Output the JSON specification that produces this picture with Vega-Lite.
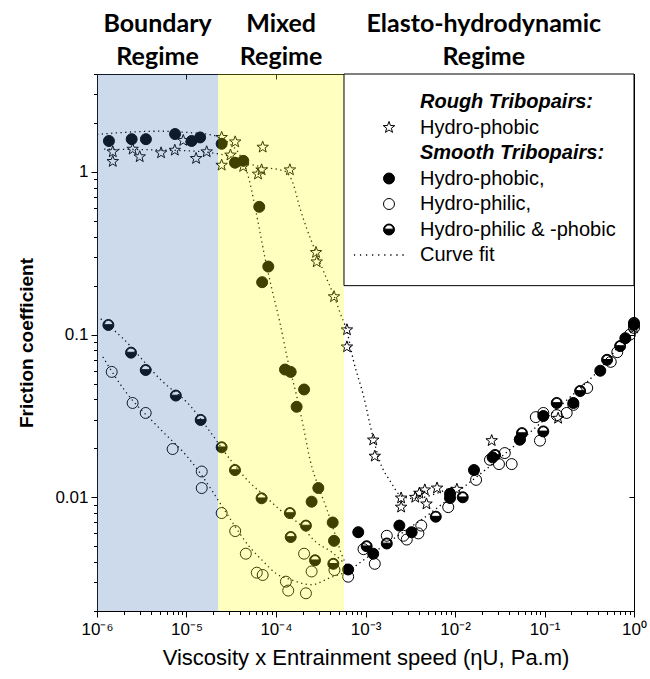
{
  "$schema": "https://vega.github.io/schema/vega-lite/v6.json",
  "width": 537,
  "height": 537,
  "autosize": "none",
  "padding": {"left": 97, "top": 74, "right": 16, "bottom": 68},
  "background": "white",
  "config": {
    "view": {"stroke": "black", "strokeWidth": 1},
    "font": "Liberation Sans",
    "axis": {"domainColor": "black", "tickColor": "black", "grid": false}
  },
  "datasets": {
    "points": [
      {"series": "Hydro-phobic", "x": 1.5e-6, "y": 1.33},
      {"series": "Hydro-phobic", "x": 1.5e-6, "y": 1.16},
      {"series": "Hydro-phobic", "x": 2.5e-6, "y": 1.38},
      {"series": "Hydro-phobic", "x": 3.0e-6, "y": 1.24},
      {"series": "Hydro-phobic", "x": 5.2e-6, "y": 1.31},
      {"series": "Hydro-phobic", "x": 7.4e-6, "y": 1.36},
      {"series": "Hydro-phobic", "x": 9.2e-6, "y": 1.56},
      {"series": "Hydro-phobic", "x": 1.28e-5, "y": 1.21},
      {"series": "Hydro-phobic", "x": 1.68e-5, "y": 1.33},
      {"series": "Hydro-phobic", "x": 2.47e-5, "y": 1.63},
      {"series": "Hydro-phobic", "x": 2.47e-5, "y": 1.10},
      {"series": "Hydro-phobic", "x": 3.1e-5, "y": 1.27},
      {"series": "Hydro-phobic", "x": 3.5e-5, "y": 1.53},
      {"series": "Hydro-phobic", "x": 4.3e-5, "y": 1.08},
      {"series": "Hydro-phobic", "x": 6.3e-5, "y": 0.97},
      {"series": "Hydro-phobic", "x": 6.9e-5, "y": 1.03},
      {"series": "Hydro-phobic", "x": 7.1e-5, "y": 1.42},
      {"series": "Hydro-phobic", "x": 1.43e-4, "y": 1.03},
      {"series": "Hydro-phobic", "x": 2.8e-4, "y": 0.32},
      {"series": "Hydro-phobic", "x": 2.85e-4, "y": 0.28},
      {"series": "Hydro-phobic", "x": 4.45e-4, "y": 0.171},
      {"series": "Hydro-phobic", "x": 6.2e-4, "y": 0.107},
      {"series": "Hydro-phobic", "x": 6.2e-4, "y": 0.084},
      {"series": "Hydro-phobic", "x": 1.22e-3, "y": 0.0225},
      {"series": "Hydro-phobic", "x": 1.27e-3, "y": 0.0179},
      {"series": "Hydro-phobic", "x": 2.5e-3, "y": 0.0099},
      {"series": "Hydro-phobic", "x": 2.5e-3, "y": 0.0087},
      {"series": "Hydro-phobic", "x": 3.6e-3, "y": 0.0100},
      {"series": "Hydro-phobic", "x": 4.0e-3, "y": 0.0106},
      {"series": "Hydro-phobic", "x": 4.6e-3, "y": 0.0111},
      {"series": "Hydro-phobic", "x": 4.8e-3, "y": 0.0091},
      {"series": "Hydro-phobic", "x": 6.3e-3, "y": 0.0114},
      {"series": "Hydro-phobic", "x": 1.05e-2, "y": 0.0112},
      {"series": "Hydro-phobic", "x": 2.57e-2, "y": 0.0223},
      {"series": "Hydro-phobic", "x": 0.142, "y": 0.0306},
      {"series": "Hydro-phobic", "x": 1.0, "y": 0.11},
      {"series": "Hydro-phobic,", "x": 1.36e-6, "y": 1.55},
      {"series": "Hydro-phobic,", "x": 2.44e-6, "y": 1.59},
      {"series": "Hydro-phobic,", "x": 3.52e-6, "y": 1.59},
      {"series": "Hydro-phobic,", "x": 7.45e-6, "y": 1.71},
      {"series": "Hydro-phobic,", "x": 1.14e-5, "y": 1.55},
      {"series": "Hydro-phobic,", "x": 1.42e-5, "y": 1.63},
      {"series": "Hydro-phobic,", "x": 2.47e-5, "y": 1.49},
      {"series": "Hydro-phobic,", "x": 3.48e-5, "y": 1.14},
      {"series": "Hydro-phobic,", "x": 4.31e-5, "y": 1.17},
      {"series": "Hydro-phobic,", "x": 6.5e-5, "y": 0.61},
      {"series": "Hydro-phobic,", "x": 8.2e-5, "y": 0.262},
      {"series": "Hydro-phobic,", "x": 7.0e-5, "y": 0.21},
      {"series": "Hydro-phobic,", "x": 1.26e-4, "y": 0.061},
      {"series": "Hydro-phobic,", "x": 1.46e-4, "y": 0.059},
      {"series": "Hydro-phobic,", "x": 2.06e-4, "y": 0.046},
      {"series": "Hydro-phobic,", "x": 1.7e-4, "y": 0.036},
      {"series": "Hydro-phobic,", "x": 2.97e-4, "y": 0.0114},
      {"series": "Hydro-phobic,", "x": 2.5e-4, "y": 0.0094},
      {"series": "Hydro-phobic,", "x": 4.3e-4, "y": 0.0070},
      {"series": "Hydro-phobic,", "x": 4.45e-4, "y": 0.0054},
      {"series": "Hydro-phobic,", "x": 6.4e-4, "y": 0.0036},
      {"series": "Hydro-phobic,", "x": 8.3e-4, "y": 0.0061},
      {"series": "Hydro-phobic,", "x": 1.22e-3, "y": 0.0045},
      {"series": "Hydro-phobic,", "x": 2.39e-3, "y": 0.0067},
      {"series": "Hydro-phobic,", "x": 3.28e-3, "y": 0.0061},
      {"series": "Hydro-phobic,", "x": 8.8e-3, "y": 0.0105},
      {"series": "Hydro-phobic,", "x": 1.63e-2, "y": 0.0147},
      {"series": "Hydro-phobic,", "x": 2.63e-2, "y": 0.0176},
      {"series": "Hydro-phobic,", "x": 5.3e-2, "y": 0.0227},
      {"series": "Hydro-phobic,", "x": 9.7e-2, "y": 0.0316},
      {"series": "Hydro-phobic,", "x": 0.21, "y": 0.038},
      {"series": "Hydro-phobic,", "x": 0.42, "y": 0.06},
      {"series": "Hydro-phobic,", "x": 0.8, "y": 0.095},
      {"series": "Hydro-phobic,", "x": 1.0, "y": 0.115},
      {"series": "Hydro-philic,", "x": 1.46e-6, "y": 0.059},
      {"series": "Hydro-philic,", "x": 2.5e-6, "y": 0.038},
      {"series": "Hydro-philic,", "x": 3.5e-6, "y": 0.033},
      {"series": "Hydro-philic,", "x": 7.0e-6, "y": 0.0198},
      {"series": "Hydro-philic,", "x": 1.48e-5, "y": 0.0144},
      {"series": "Hydro-philic,", "x": 1.48e-5, "y": 0.0114},
      {"series": "Hydro-philic,", "x": 2.47e-5, "y": 0.0080},
      {"series": "Hydro-philic,", "x": 3.5e-5, "y": 0.0062},
      {"series": "Hydro-philic,", "x": 4.6e-5, "y": 0.0045},
      {"series": "Hydro-philic,", "x": 6.1e-5, "y": 0.00344},
      {"series": "Hydro-philic,", "x": 7.1e-5, "y": 0.00333},
      {"series": "Hydro-philic,", "x": 1.29e-4, "y": 0.00303},
      {"series": "Hydro-philic,", "x": 1.37e-4, "y": 0.00267},
      {"series": "Hydro-philic,", "x": 2.16e-4, "y": 0.00257},
      {"series": "Hydro-philic,", "x": 2.06e-4, "y": 0.0045},
      {"series": "Hydro-philic,", "x": 2.5e-4, "y": 0.0035},
      {"series": "Hydro-philic,", "x": 4.5e-4, "y": 0.00357},
      {"series": "Hydro-philic,", "x": 6.4e-4, "y": 0.00325},
      {"series": "Hydro-philic,", "x": 9.5e-4, "y": 0.0048},
      {"series": "Hydro-philic,", "x": 1.27e-3, "y": 0.0039},
      {"series": "Hydro-philic,", "x": 1.73e-3, "y": 0.0058},
      {"series": "Hydro-philic,", "x": 2.65e-3, "y": 0.0058},
      {"series": "Hydro-philic,", "x": 2.89e-3, "y": 0.0055},
      {"series": "Hydro-philic,", "x": 3.9e-3, "y": 0.0060},
      {"series": "Hydro-philic,", "x": 4.2e-3, "y": 0.0067},
      {"series": "Hydro-philic,", "x": 8.4e-3, "y": 0.0087},
      {"series": "Hydro-philic,", "x": 1.72e-2, "y": 0.0128},
      {"series": "Hydro-philic,", "x": 2.46e-2, "y": 0.0170},
      {"series": "Hydro-philic,", "x": 3.1e-2, "y": 0.016},
      {"series": "Hydro-philic,", "x": 4.3e-2, "y": 0.016},
      {"series": "Hydro-philic,", "x": 3.6e-2, "y": 0.0187},
      {"series": "Hydro-philic,", "x": 5.3e-2, "y": 0.0226},
      {"series": "Hydro-philic,", "x": 8.9e-2, "y": 0.0223},
      {"series": "Hydro-philic,", "x": 8.0e-2, "y": 0.0311},
      {"series": "Hydro-philic,", "x": 9.7e-2, "y": 0.033},
      {"series": "Hydro-philic,", "x": 0.137, "y": 0.032},
      {"series": "Hydro-philic,", "x": 0.177, "y": 0.033},
      {"series": "Hydro-philic,", "x": 0.21, "y": 0.037},
      {"series": "Hydro-philic,", "x": 0.3, "y": 0.047},
      {"series": "Hydro-philic,", "x": 0.55, "y": 0.068},
      {"series": "Hydro-philic,", "x": 0.65, "y": 0.078},
      {"series": "Hydro-philic,", "x": 0.9, "y": 0.1},
      {"series": "Hydro-philic,", "x": 1.0, "y": 0.11},
      {"series": "Hydro-philic & -phobic", "x": 1.34e-6, "y": 0.1146},
      {"series": "Hydro-philic & -phobic", "x": 2.4e-6, "y": 0.0775},
      {"series": "Hydro-philic & -phobic", "x": 3.5e-6, "y": 0.0606},
      {"series": "Hydro-philic & -phobic", "x": 7.6e-6, "y": 0.0422},
      {"series": "Hydro-philic & -phobic", "x": 1.44e-5, "y": 0.0299},
      {"series": "Hydro-philic & -phobic", "x": 2.47e-5, "y": 0.0203},
      {"series": "Hydro-philic & -phobic", "x": 3.48e-5, "y": 0.0147},
      {"series": "Hydro-philic & -phobic", "x": 6.9e-5, "y": 0.00986},
      {"series": "Hydro-philic & -phobic", "x": 1.43e-4, "y": 0.0080},
      {"series": "Hydro-philic & -phobic", "x": 1.46e-4, "y": 0.0057},
      {"series": "Hydro-philic & -phobic", "x": 2.16e-4, "y": 0.0067},
      {"series": "Hydro-philic & -phobic", "x": 2.73e-4, "y": 0.0041},
      {"series": "Hydro-philic & -phobic", "x": 4.37e-4, "y": 0.0039},
      {"series": "Hydro-philic & -phobic", "x": 1.03e-3, "y": 0.0050},
      {"series": "Hydro-philic & -phobic", "x": 1.73e-3, "y": 0.0052},
      {"series": "Hydro-philic & -phobic", "x": 6.1e-3, "y": 0.0076},
      {"series": "Hydro-philic & -phobic", "x": 8.8e-3, "y": 0.0099},
      {"series": "Hydro-philic & -phobic", "x": 1.22e-2, "y": 0.010},
      {"series": "Hydro-philic & -phobic", "x": 2.8e-2, "y": 0.0182},
      {"series": "Hydro-philic & -phobic", "x": 5.6e-2, "y": 0.0248},
      {"series": "Hydro-philic & -phobic", "x": 9.7e-2, "y": 0.0254},
      {"series": "Hydro-philic & -phobic", "x": 0.137, "y": 0.038},
      {"series": "Hydro-philic & -phobic", "x": 0.25, "y": 0.045},
      {"series": "Hydro-philic & -phobic", "x": 0.5, "y": 0.07},
      {"series": "Hydro-philic & -phobic", "x": 0.7, "y": 0.085},
      {"series": "Hydro-philic & -phobic", "x": 1.0, "y": 0.118}
    ],
    "fits": [
      {"fit": "smooth phobic", "x": 1e-6, "y": 1.7},
      {"fit": "smooth phobic", "x": 2e-6, "y": 1.75},
      {"fit": "smooth phobic", "x": 5e-6, "y": 1.78},
      {"fit": "smooth phobic", "x": 1e-5, "y": 1.75},
      {"fit": "smooth phobic", "x": 2e-5, "y": 1.68},
      {"fit": "smooth phobic", "x": 3e-5, "y": 1.5},
      {"fit": "smooth phobic", "x": 4e-5, "y": 1.25},
      {"fit": "smooth phobic", "x": 5e-5, "y": 0.9},
      {"fit": "smooth phobic", "x": 5.8e-5, "y": 0.62},
      {"fit": "smooth phobic", "x": 6.5e-5, "y": 0.45},
      {"fit": "smooth phobic", "x": 7.5e-5, "y": 0.3},
      {"fit": "smooth phobic", "x": 9e-5, "y": 0.19},
      {"fit": "smooth phobic", "x": 1.1e-4, "y": 0.12},
      {"fit": "smooth phobic", "x": 1.35e-4, "y": 0.07},
      {"fit": "smooth phobic", "x": 1.7e-4, "y": 0.042},
      {"fit": "smooth phobic", "x": 2e-4, "y": 0.028},
      {"fit": "smooth phobic", "x": 2.4e-4, "y": 0.017},
      {"fit": "smooth phobic", "x": 3e-4, "y": 0.0115},
      {"fit": "smooth phobic", "x": 3.6e-4, "y": 0.0088},
      {"fit": "smooth phobic", "x": 4.3e-4, "y": 0.0066},
      {"fit": "smooth phobic", "x": 5.3e-4, "y": 0.0046},
      {"fit": "smooth phobic", "x": 6.4e-4, "y": 0.0036},
      {"fit": "rough phobic", "x": 1.2e-6, "y": 1.38},
      {"fit": "rough phobic", "x": 1e-5, "y": 1.35},
      {"fit": "rough phobic", "x": 3e-5, "y": 1.25},
      {"fit": "rough phobic", "x": 5e-5, "y": 1.12},
      {"fit": "rough phobic", "x": 8e-5, "y": 1.06},
      {"fit": "rough phobic", "x": 1.1e-4, "y": 1.03},
      {"fit": "rough phobic", "x": 1.3e-4, "y": 1.0},
      {"fit": "rough phobic", "x": 1.55e-4, "y": 0.85},
      {"fit": "rough phobic", "x": 1.85e-4, "y": 0.6},
      {"fit": "rough phobic", "x": 2.2e-4, "y": 0.45},
      {"fit": "rough phobic", "x": 2.8e-4, "y": 0.32},
      {"fit": "rough phobic", "x": 3.6e-4, "y": 0.227},
      {"fit": "rough phobic", "x": 4.5e-4, "y": 0.17},
      {"fit": "rough phobic", "x": 5.2e-4, "y": 0.136},
      {"fit": "rough phobic", "x": 6.2e-4, "y": 0.105},
      {"fit": "rough phobic", "x": 7.3e-4, "y": 0.07},
      {"fit": "rough phobic", "x": 9.5e-4, "y": 0.042},
      {"fit": "rough phobic", "x": 1.2e-3, "y": 0.024},
      {"fit": "rough phobic", "x": 1.45e-3, "y": 0.0165},
      {"fit": "rough phobic", "x": 1.9e-3, "y": 0.0125},
      {"fit": "rough phobic", "x": 2.5e-3, "y": 0.0102},
      {"fit": "rough phobic", "x": 3.5e-3, "y": 0.0098},
      {"fit": "rough phobic", "x": 6e-3, "y": 0.0105},
      {"fit": "rough phobic", "x": 1e-2, "y": 0.0118},
      {"fit": "philic phobic", "x": 1.1e-6, "y": 0.125},
      {"fit": "philic phobic", "x": 1.9e-6, "y": 0.096},
      {"fit": "philic phobic", "x": 5.3e-6, "y": 0.052},
      {"fit": "philic phobic", "x": 1.1e-5, "y": 0.0365},
      {"fit": "philic phobic", "x": 1.7e-5, "y": 0.0268},
      {"fit": "philic phobic", "x": 3.2e-5, "y": 0.0166},
      {"fit": "philic phobic", "x": 5.1e-5, "y": 0.0123},
      {"fit": "philic phobic", "x": 7.5e-5, "y": 0.0102},
      {"fit": "philic phobic", "x": 1.1e-4, "y": 0.0084},
      {"fit": "philic phobic", "x": 1.85e-4, "y": 0.0068},
      {"fit": "philic phobic", "x": 2.8e-4, "y": 0.0053},
      {"fit": "philic phobic", "x": 4.2e-4, "y": 0.0046},
      {"fit": "philic phobic", "x": 5.6e-4, "y": 0.004},
      {"fit": "philic", "x": 1.16e-6, "y": 0.073},
      {"fit": "philic", "x": 2e-6, "y": 0.046},
      {"fit": "philic", "x": 5e-6, "y": 0.0265},
      {"fit": "philic", "x": 1e-5, "y": 0.018},
      {"fit": "philic", "x": 1.5e-5, "y": 0.0135},
      {"fit": "philic", "x": 2.5e-5, "y": 0.0088},
      {"fit": "philic", "x": 3.5e-5, "y": 0.0066},
      {"fit": "philic", "x": 5e-5, "y": 0.005},
      {"fit": "philic", "x": 7e-5, "y": 0.0041},
      {"fit": "philic", "x": 1e-4, "y": 0.0034},
      {"fit": "philic", "x": 1.5e-4, "y": 0.0031},
      {"fit": "philic", "x": 2.5e-4, "y": 0.0029},
      {"fit": "philic", "x": 4e-4, "y": 0.0032},
      {"fit": "philic", "x": 6.4e-4, "y": 0.0035},
      {"fit": "ehl", "x": 6.4e-4, "y": 0.0035},
      {"fit": "ehl", "x": 1e-3, "y": 0.0042},
      {"fit": "ehl", "x": 2e-3, "y": 0.0055},
      {"fit": "ehl", "x": 5e-3, "y": 0.0078},
      {"fit": "ehl", "x": 1e-2, "y": 0.0105},
      {"fit": "ehl", "x": 3e-2, "y": 0.017},
      {"fit": "ehl", "x": 0.1, "y": 0.03},
      {"fit": "ehl", "x": 0.2, "y": 0.042},
      {"fit": "ehl", "x": 0.4, "y": 0.06},
      {"fit": "ehl", "x": 1, "y": 0.115}
    ],
    "regions": [
      {"regime": "Boundary", "start": 1e-6, "end": 2.25e-5},
      {"regime": "Mixed", "start": 2.25e-5, "end": 5.75e-4}
    ],
    "regimes": [
      {"label": ["Boundary", "Regime"], "x": 4.75e-6},
      {"label": ["Mixed", "Regime"], "x": 1.14e-4},
      {"label": ["Elasto-hydrodynamic", "Regime"], "x": 0.021}
    ]
  },
  "layer": [
    {
      "data": {"name": "fits"},
      "mark": {"type": "line", "color": "black", "strokeWidth": 1.3, "strokeDash": [1.3, 3.4], "interpolate": "monotone"},
      "encoding": {
        "x": {"field": "x", "type": "quantitative", "scale": {"type": "log", "domain": [1e-6, 1], "nice": false}, "axis": null},
        "y": {"field": "y", "type": "quantitative", "scale": {"type": "log", "domain": [0.002, 4], "nice": false}, "axis": null},
        "detail": {"field": "fit", "type": "nominal"}
      }
    },
    {
      "data": {"name": "points"},
      "mark": {"type": "point", "filled": true, "size": 121, "stroke": "black", "strokeWidth": 1, "opacity": 1},
      "encoding": {
        "x": {
          "field": "x", "type": "quantitative",
          "scale": {"type": "log", "domain": [1e-6, 1], "nice": false},
          "axis": {
            "title": "Viscosity x Entrainment speed (ηU, Pa.m)",
            "titleFont": "Liberation Sans", "titleFontSize": 22, "titleFontWeight": "normal", "titleColor": "black", "titlePadding": 10,
            "values": [1e-6, 2e-6, 3e-6, 4e-6, 5e-6, 6e-6, 7e-6, 8e-6, 9e-6, 1e-5, 2e-5, 3e-5, 4e-5, 5e-5, 6e-5, 7e-5, 8e-5, 9e-5, 1e-4, 2e-4, 3e-4, 4e-4, 5e-4, 6e-4, 7e-4, 8e-4, 9e-4, 1e-3, 2e-3, 3e-3, 4e-3, 5e-3, 6e-3, 7e-3, 8e-3, 9e-3, 0.01, 0.02, 0.03, 0.04, 0.05, 0.06, 0.07, 0.08, 0.09, 0.1, 0.2, 0.3, 0.4, 0.5, 0.6, 0.7, 0.8, 0.9, 1],
            "labelExpr": "abs(log(datum.value)/LN10 - round(log(datum.value)/LN10)) < 0.001 ? '10' + ['⁰','⁻¹','⁻²','⁻³','⁻⁴','⁻⁵','⁻⁶'][-round(log(datum.value)/LN10)] : ''",
            "labelFont": "Liberation Sans", "labelFontSize": 17, "labelColor": "black", "labelPadding": 4, "labelOverlap": false, "labelFlush": false,
            "tickSize": {"condition": {"test": "abs(log(datum.value)/LN10 - round(log(datum.value)/LN10)) < 0.001", "value": 6}, "value": 3.5},
            "tickColor": "black", "domainColor": "black", "grid": false
          }
        },
        "y": {
          "field": "y", "type": "quantitative",
          "scale": {"type": "log", "domain": [0.002, 4], "nice": false},
          "axis": {
            "title": "Friction coefficient",
            "titleFont": "Liberation Sans", "titleFontSize": 19, "titleFontWeight": "bold", "titleColor": "black", "titlePadding": 18,
            "values": [0.002, 0.003, 0.004, 0.005, 0.006, 0.007, 0.008, 0.009, 0.01, 0.02, 0.03, 0.04, 0.05, 0.06, 0.07, 0.08, 0.09, 0.1, 0.2, 0.3, 0.4, 0.5, 0.6, 0.7, 0.8, 0.9, 1, 2, 3, 4],
            "labelExpr": "abs(log(datum.value)/LN10 - round(log(datum.value)/LN10)) < 0.001 ? format(datum.value, '~g') : ''",
            "labelFont": "Liberation Sans", "labelFontSize": 17, "labelColor": "black", "labelPadding": 3, "labelOverlap": false, "labelFlush": false,
            "tickSize": {"condition": {"test": "abs(log(datum.value)/LN10 - round(log(datum.value)/LN10)) < 0.001", "value": 6}, "value": 3.5},
            "tickColor": "black", "domainColor": "black", "grid": false
          }
        },
        "shape": {
          "field": "series", "type": "nominal",
          "scale": {
            "domain": ["Rough Tribopairs:", "Hydro-phobic", "Smooth Tribopairs:", "Hydro-phobic,", "Hydro-philic,", "Hydro-philic & -phobic", "Curve fit"],
            "range": [
              "M0,0",
              "M0,-1.1L0.265,-0.364L1.046,-0.34L0.428,0.139L0.647,0.89L0,0.45L-0.647,0.89L-0.428,0.139L-1.046,-0.34L-0.265,-0.364Z",
              "M0,0",
              "M-1,0A1,1,0,1,1,1,0A1,1,0,1,1,-1,0Z",
              "M-1,0A1,1,0,1,1,1,0A1,1,0,1,1,-1,0Z",
              "M-1,0A1,1,0,1,1,1,0A1,1,0,1,1,-1,0ZM-0.78,-0.06L0.78,-0.06A0.78,0.78,0,0,0,-0.78,-0.06Z",
              "M-6.3,-0.05h0.1v0.1h-0.1ZM-5.2,-0.05h0.1v0.1h-0.1ZM-4.1,-0.05h0.1v0.1h-0.1ZM-3,-0.05h0.1v0.1h-0.1ZM-1.9,-0.05h0.1v0.1h-0.1ZM-0.8,-0.05h0.1v0.1h-0.1ZM0.3,-0.05h0.1v0.1h-0.1ZM1.4,-0.05h0.1v0.1h-0.1ZM2.5,-0.05h0.1v0.1h-0.1Z"
            ]
          },
          "legend": {
            "title": null, "orient": "none", "legendX": 282, "legendY": 18,
            "labelFont": "Liberation Sans", "labelFontSize": 20, "labelColor": "black", "labelLimit": 300,
            "labelFontWeight": {"expr": "indexof(datum.value, 'Tribopairs') >= 0 ? 'bold' : 'normal'"},
            "labelFontStyle": {"expr": "indexof(datum.value, 'Tribopairs') >= 0 ? 'italic' : 'normal'"},
            "symbolSize": 121, "symbolStrokeWidth": 1, "symbolOpacity": 1,
            "labelOffset": 21, "rowPadding": 5.5, "padding": 0,
            "encode": {"symbols": {"update": {"stroke": {"value": "black"}, "strokeWidth": {"value": 1}, "opacity": {"value": 1}}}}
          }
        },
        "fill": {
          "field": "series", "type": "nominal",
          "scale": {
            "domain": ["Rough Tribopairs:", "Hydro-phobic", "Smooth Tribopairs:", "Hydro-phobic,", "Hydro-philic,", "Hydro-philic & -phobic", "Curve fit"],
            "range": ["transparent", "transparent", "transparent", "black", "transparent", "black", "black"]
          },
          "legend": {
            "title": null, "orient": "none", "legendX": 282, "legendY": 18,
            "labelFont": "Liberation Sans", "labelFontSize": 20, "labelColor": "black", "labelLimit": 300,
            "labelFontWeight": {"expr": "indexof(datum.value, 'Tribopairs') >= 0 ? 'bold' : 'normal'"},
            "labelFontStyle": {"expr": "indexof(datum.value, 'Tribopairs') >= 0 ? 'italic' : 'normal'"},
            "symbolSize": 121, "symbolStrokeWidth": 1, "symbolOpacity": 1,
            "labelOffset": 21, "rowPadding": 5.5, "padding": 0,
            "encode": {"symbols": {"update": {"stroke": {"value": "black"}, "strokeWidth": {"value": 1}, "opacity": {"value": 1}}}}
          }
        }
      }
    },
    {
      "data": {"name": "regions"},
      "mark": {"type": "rect", "opacity": 0.25},
      "encoding": {
        "x": {"field": "start", "type": "quantitative", "scale": {"type": "log", "domain": [1e-6, 1], "nice": false}, "axis": null},
        "x2": {"field": "end"},
        "color": {"field": "regime", "type": "nominal", "scale": {"domain": ["Boundary", "Mixed"], "range": ["#376baf", "#ffff00"]}, "legend": null}
      }
    },
    {
      "data": {"values": [{}]},
      "mark": {"type": "rect", "fill": "white", "stroke": "black", "strokeWidth": 1},
      "encoding": {
        "x": {"datum": 0.000575, "type": "quantitative", "scale": {"type": "log", "domain": [1e-6, 1], "nice": false},
          "axis": {"orient": "top", "labels": false, "title": null, "values": [1e-6, 1e-5, 1e-4, 1e-3, 1e-2, 0.1, 1], "tickSize": -5, "tickColor": "black", "domainColor": "black", "grid": false}},
        "x2": {"datum": 1},
        "y": {"datum": 0.2, "type": "quantitative", "scale": {"type": "log", "domain": [0.002, 4], "nice": false},
          "axis": {"orient": "right", "labels": false, "title": null, "values": [0.01, 0.1, 1], "tickSize": -5, "tickColor": "black", "domainColor": "black", "grid": false}},
        "y2": {"datum": 4}
      }
    },
    {
      "data": {"name": "regimes"},
      "mark": {"type": "text", "font": "Lato", "fontWeight": "bold", "fontSize": 25, "align": "center", "baseline": "alphabetic", "dy": -42, "lineHeight": 33, "color": "black"},
      "encoding": {
        "x": {"field": "x", "type": "quantitative", "scale": {"type": "log", "domain": [1e-6, 1], "nice": false}, "axis": null},
        "y": {"datum": 4, "type": "quantitative", "scale": {"type": "log", "domain": [0.002, 4], "nice": false}, "axis": null},
        "text": {"field": "label"}
      }
    }
  ],
  "resolve": {"axis": {"x": "independent", "y": "independent"}}
}
